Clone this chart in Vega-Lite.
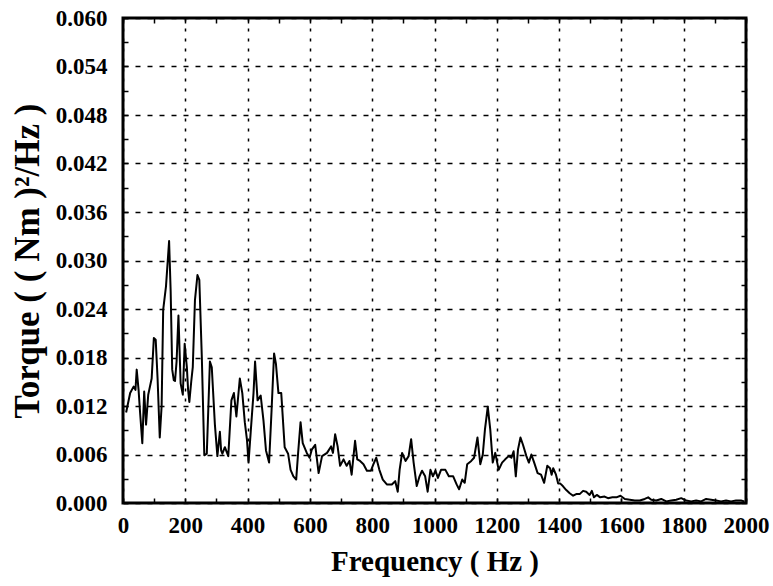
{
  "$schema": "https://vega.github.io/schema/vega-lite/v6.json",
  "width": 623,
  "height": 485,
  "autosize": {"type": "none"},
  "padding": {"left": 123, "top": 18, "right": 27, "bottom": 83},
  "background": "white",
  "config": {
    "view": {"stroke": "black", "strokeWidth": 3},
    "axis": {
      "labelFont": "'Liberation Serif', 'Times New Roman', 'DejaVu Serif', serif",
      "labelFontWeight": "bold",
      "labelColor": "black",
      "titleFont": "'Liberation Serif', 'Times New Roman', 'DejaVu Serif', serif",
      "titleFontWeight": "bold",
      "titleColor": "black",
      "labelOverlap": false,
      "labelBound": false,
      "labelFlush": false
    }
  },
  "data": {
    "values": [
      {"f": 10, "v": 0.0112}, {"f": 23, "v": 0.0136}, {"f": 34, "v": 0.0144}, {"f": 40, "v": 0.0140}, {"f": 44, "v": 0.0165},
      {"f": 50, "v": 0.0140}, {"f": 55, "v": 0.0111}, {"f": 62, "v": 0.0074}, {"f": 68, "v": 0.0138}, {"f": 74, "v": 0.0097},
      {"f": 81, "v": 0.0134}, {"f": 92, "v": 0.0154}, {"f": 99, "v": 0.0204}, {"f": 105, "v": 0.0202}, {"f": 111, "v": 0.0154},
      {"f": 118, "v": 0.0081}, {"f": 124, "v": 0.0120}, {"f": 129, "v": 0.0239}, {"f": 138, "v": 0.0268}, {"f": 148, "v": 0.0324},
      {"f": 153, "v": 0.0262}, {"f": 158, "v": 0.0165}, {"f": 163, "v": 0.0152}, {"f": 167, "v": 0.0151}, {"f": 172, "v": 0.0175},
      {"f": 178, "v": 0.0232}, {"f": 185, "v": 0.0148}, {"f": 192, "v": 0.0134}, {"f": 198, "v": 0.0197}, {"f": 205, "v": 0.0168},
      {"f": 209, "v": 0.0140}, {"f": 213, "v": 0.0125}, {"f": 219, "v": 0.0150}, {"f": 224, "v": 0.0168}, {"f": 231, "v": 0.0251},
      {"f": 239, "v": 0.0282}, {"f": 245, "v": 0.0276}, {"f": 253, "v": 0.0181}, {"f": 261, "v": 0.0059}, {"f": 269, "v": 0.0061},
      {"f": 279, "v": 0.0175}, {"f": 285, "v": 0.0168}, {"f": 295, "v": 0.0097}, {"f": 303, "v": 0.0058}, {"f": 311, "v": 0.0088},
      {"f": 315, "v": 0.0065}, {"f": 319, "v": 0.0061}, {"f": 327, "v": 0.0069}, {"f": 338, "v": 0.0058}, {"f": 348, "v": 0.0127},
      {"f": 356, "v": 0.0136}, {"f": 364, "v": 0.0107}, {"f": 375, "v": 0.0154}, {"f": 383, "v": 0.0136}, {"f": 391, "v": 0.0100},
      {"f": 398, "v": 0.0078}, {"f": 403, "v": 0.0050}, {"f": 410, "v": 0.0088}, {"f": 419, "v": 0.0136}, {"f": 424, "v": 0.0175},
      {"f": 432, "v": 0.0127}, {"f": 442, "v": 0.0133}, {"f": 451, "v": 0.0102}, {"f": 459, "v": 0.0065}, {"f": 469, "v": 0.0050},
      {"f": 477, "v": 0.0115}, {"f": 485, "v": 0.0185}, {"f": 491, "v": 0.0172}, {"f": 499, "v": 0.0136}, {"f": 508, "v": 0.0136},
      {"f": 519, "v": 0.0069}, {"f": 530, "v": 0.0061}, {"f": 538, "v": 0.0041}, {"f": 547, "v": 0.0033}, {"f": 556, "v": 0.0029},
      {"f": 562, "v": 0.0061}, {"f": 570, "v": 0.0100}, {"f": 577, "v": 0.0074}, {"f": 590, "v": 0.0062}, {"f": 599, "v": 0.0056},
      {"f": 606, "v": 0.0066}, {"f": 617, "v": 0.0072}, {"f": 628, "v": 0.0037}, {"f": 639, "v": 0.0058}, {"f": 655, "v": 0.0062},
      {"f": 668, "v": 0.0070}, {"f": 674, "v": 0.0062}, {"f": 681, "v": 0.0085}, {"f": 689, "v": 0.0070}, {"f": 697, "v": 0.0046},
      {"f": 708, "v": 0.0054}, {"f": 718, "v": 0.0046}, {"f": 727, "v": 0.0052}, {"f": 734, "v": 0.0035}, {"f": 745, "v": 0.0077},
      {"f": 752, "v": 0.0054}, {"f": 761, "v": 0.0052}, {"f": 772, "v": 0.0048}, {"f": 783, "v": 0.0040}, {"f": 796, "v": 0.0040},
      {"f": 804, "v": 0.0048}, {"f": 813, "v": 0.0056}, {"f": 823, "v": 0.0041}, {"f": 834, "v": 0.0029}, {"f": 847, "v": 0.0023},
      {"f": 863, "v": 0.0023}, {"f": 874, "v": 0.0027}, {"f": 882, "v": 0.0014}, {"f": 888, "v": 0.0041}, {"f": 896, "v": 0.0062},
      {"f": 907, "v": 0.0052}, {"f": 917, "v": 0.0058}, {"f": 925, "v": 0.0079}, {"f": 933, "v": 0.0050}, {"f": 943, "v": 0.0021},
      {"f": 952, "v": 0.0033}, {"f": 960, "v": 0.0040}, {"f": 970, "v": 0.0033}, {"f": 978, "v": 0.0014}, {"f": 987, "v": 0.0041},
      {"f": 995, "v": 0.0033}, {"f": 1003, "v": 0.0040}, {"f": 1011, "v": 0.0031}, {"f": 1021, "v": 0.0041}, {"f": 1035, "v": 0.0041},
      {"f": 1046, "v": 0.0033}, {"f": 1060, "v": 0.0033}, {"f": 1071, "v": 0.0023}, {"f": 1079, "v": 0.0017}, {"f": 1089, "v": 0.0029},
      {"f": 1097, "v": 0.0025}, {"f": 1105, "v": 0.0048}, {"f": 1118, "v": 0.0052}, {"f": 1127, "v": 0.0056}, {"f": 1138, "v": 0.0081},
      {"f": 1147, "v": 0.0048}, {"f": 1155, "v": 0.0060}, {"f": 1162, "v": 0.0091}, {"f": 1171, "v": 0.0119}, {"f": 1179, "v": 0.0091},
      {"f": 1187, "v": 0.0050}, {"f": 1195, "v": 0.0062}, {"f": 1206, "v": 0.0041}, {"f": 1217, "v": 0.0050}, {"f": 1227, "v": 0.0054},
      {"f": 1238, "v": 0.0058}, {"f": 1247, "v": 0.0056}, {"f": 1254, "v": 0.0064}, {"f": 1261, "v": 0.0033}, {"f": 1268, "v": 0.0066},
      {"f": 1276, "v": 0.0081}, {"f": 1284, "v": 0.0072}, {"f": 1295, "v": 0.0058}, {"f": 1303, "v": 0.0050}, {"f": 1311, "v": 0.0060},
      {"f": 1320, "v": 0.0050}, {"f": 1331, "v": 0.0037}, {"f": 1342, "v": 0.0035}, {"f": 1352, "v": 0.0025}, {"f": 1362, "v": 0.0046},
      {"f": 1371, "v": 0.0043}, {"f": 1376, "v": 0.0035}, {"f": 1381, "v": 0.0043}, {"f": 1390, "v": 0.0035}, {"f": 1397, "v": 0.0024},
      {"f": 1404, "v": 0.0024}, {"f": 1412, "v": 0.0021}, {"f": 1423, "v": 0.0016}, {"f": 1434, "v": 0.0012}, {"f": 1445, "v": 0.0009},
      {"f": 1455, "v": 0.0011}, {"f": 1466, "v": 0.0011}, {"f": 1477, "v": 0.0015}, {"f": 1487, "v": 0.0014}, {"f": 1498, "v": 0.0010},
      {"f": 1505, "v": 0.0015}, {"f": 1512, "v": 0.0007}, {"f": 1521, "v": 0.0010}, {"f": 1532, "v": 0.0007}, {"f": 1546, "v": 0.0008},
      {"f": 1557, "v": 0.0006}, {"f": 1571, "v": 0.0007}, {"f": 1584, "v": 0.0007}, {"f": 1597, "v": 0.0009}, {"f": 1611, "v": 0.0005},
      {"f": 1627, "v": 0.0004}, {"f": 1643, "v": 0.0003}, {"f": 1659, "v": 0.0003}, {"f": 1675, "v": 0.0005}, {"f": 1686, "v": 0.0007},
      {"f": 1696, "v": 0.0004}, {"f": 1712, "v": 0.0003}, {"f": 1728, "v": 0.0005}, {"f": 1744, "v": 0.0002}, {"f": 1760, "v": 0.0003},
      {"f": 1776, "v": 0.0004}, {"f": 1792, "v": 0.0006}, {"f": 1808, "v": 0.0003}, {"f": 1824, "v": 0.0002}, {"f": 1840, "v": 0.0003},
      {"f": 1856, "v": 0.0002}, {"f": 1872, "v": 0.0005}, {"f": 1888, "v": 0.0004}, {"f": 1904, "v": 0.0003}, {"f": 1920, "v": 0.0002},
      {"f": 1936, "v": 0.0003}, {"f": 1952, "v": 0.0002}, {"f": 1968, "v": 0.0003}, {"f": 1984, "v": 0.0003}, {"f": 1995, "v": 0.0002}
    ]
  },
  "resolve": {"axis": {"x": "independent", "y": "independent"}},
  "layer": [
    {
      "mark": {"type": "line", "color": "black", "strokeWidth": 2, "strokeJoin": "round"},
      "encoding": {
        "x": {
          "field": "f", "type": "quantitative",
          "scale": {"domain": [0, 2000], "nice": false, "zero": false},
          "axis": {
            "orient": "bottom",
            "values": [0, 200, 400, 600, 800, 1000, 1200, 1400, 1600, 1800, 2000],
            "format": "d",
            "grid": true, "gridColor": "black", "gridWidth": 1.5, "gridDash": [3, 7], "gridOpacity": 1,
            "ticks": false, "domain": false,
            "labelFontSize": 23, "labelPadding": 11,
            "title": "Frequency ( Hz )", "titleFontSize": 29, "titlePadding": 10
          }
        },
        "y": {
          "field": "v", "type": "quantitative",
          "scale": {"domain": [0, 0.06], "nice": false, "zero": false},
          "axis": {
            "orient": "left",
            "values": [0, 0.006, 0.012, 0.018, 0.024, 0.03, 0.036, 0.042, 0.048, 0.054, 0.06],
            "format": ".3f",
            "grid": true, "gridColor": "black", "gridWidth": 1.5, "gridDash": [5, 7], "gridOpacity": 1,
            "ticks": false, "domain": false,
            "labelFontSize": 23, "labelPadding": 16,
            "title": "Torque ( ( Nm )²/Hz )", "titleFontSize": 35, "titlePadding": 10
          }
        }
      }
    },
    {
      "mark": {"type": "line", "strokeOpacity": 0},
      "encoding": {
        "x": {
          "field": "f", "type": "quantitative",
          "axis": {
            "orient": "bottom",
            "values": [0, 100, 200, 300, 400, 500, 600, 700, 800, 900, 1000, 1100, 1200, 1300, 1400, 1500, 1600, 1700, 1800, 1900, 2000],
            "labels": false, "grid": false, "domain": false, "title": null,
            "ticks": true, "tickSize": -5, "tickColor": "black", "tickWidth": 1.5
          }
        },
        "y": {
          "field": "v", "type": "quantitative",
          "axis": {
            "orient": "left",
            "values": [0, 0.003, 0.006, 0.009, 0.012, 0.015, 0.018, 0.021, 0.024, 0.027, 0.03, 0.033, 0.036, 0.039, 0.042, 0.045, 0.048, 0.051, 0.054, 0.057, 0.06],
            "labels": false, "grid": false, "domain": false, "title": null,
            "ticks": true, "tickSize": -5, "tickColor": "black", "tickWidth": 1.5
          }
        }
      }
    },
    {
      "mark": {"type": "line", "strokeOpacity": 0},
      "encoding": {
        "x": {
          "field": "f", "type": "quantitative",
          "axis": {
            "orient": "top",
            "values": [0, 100, 200, 300, 400, 500, 600, 700, 800, 900, 1000, 1100, 1200, 1300, 1400, 1500, 1600, 1700, 1800, 1900, 2000],
            "labels": false, "grid": false, "domain": false, "title": null,
            "ticks": true, "tickSize": -5, "tickColor": "black", "tickWidth": 1.5
          }
        },
        "y": {
          "field": "v", "type": "quantitative",
          "axis": {
            "orient": "right",
            "values": [0, 0.003, 0.006, 0.009, 0.012, 0.015, 0.018, 0.021, 0.024, 0.027, 0.03, 0.033, 0.036, 0.039, 0.042, 0.045, 0.048, 0.051, 0.054, 0.057, 0.06],
            "labels": false, "grid": false, "domain": false, "title": null,
            "ticks": true, "tickSize": -5, "tickColor": "black", "tickWidth": 1.5
          }
        }
      }
    }
  ]
}
